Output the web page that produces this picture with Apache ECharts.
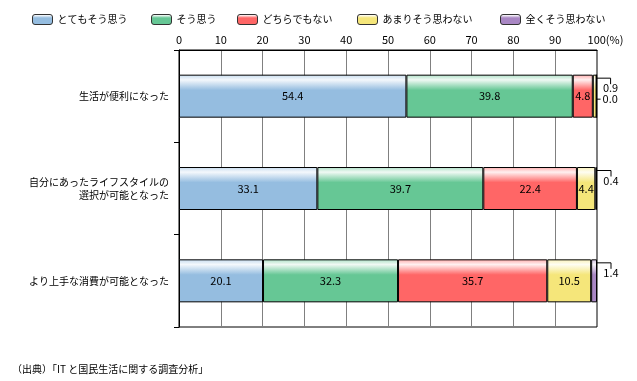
<!DOCTYPE html>
<html>
<head>
<meta charset="utf-8">
<script src="https://cdn.jsdelivr.net/npm/echarts@6/dist/echarts.min.js"></script>
<style>
html,body{margin:0;padding:0;background:#fff;}
#chart{width:637px;height:381px;}
</style>
</head>
<body>
<div id="chart"></div>
<script>
// ---- data ----
const categories = ['生活が便利になった', '自分にあったライフスタイルの\n選択が可能となった', 'より上手な消費が可能となった'];
const legendNames = ['とてもそう思う', 'そう思う', 'どちらでもない', 'あまりそう思わない', '全くそう思わない'];
const veryMuch = [54.4, 33.1, 20.1];
const somewhat = [39.8, 39.7, 32.3];
const neutral  = [4.8, 22.4, 35.7];
const notMuch  = [0.9, 4.4, 10.5];
const notAtAll = [0.0, 0.4, 1.4];
const xTickValues = [0, 10, 20, 30, 40, 50, 60, 70, 80, 90, 100];
const sourceNote = '（出典）「IT と国民生活に関する調査分析」';

// ---- styling ----
const baseColors = ['#95BDE0', '#66C795', '#FF6666', '#F5E67A', '#A987C4'];
const legendLefts = [32, 151, 237, 357, 500];
const FONT = '"Noto Sans CJK JP", "Noto Sans", sans-serif';
const BAR_W = 43;

function mix(hex, t) {
  const n = parseInt(hex.slice(1), 16);
  const r = (n >> 16) & 255, g = (n >> 8) & 255, b = n & 255;
  const f = c => Math.round(c + (255 - c) * t);
  return 'rgb(' + f(r) + ',' + f(g) + ',' + f(b) + ')';
}
function grad(hex) {
  return new echarts.graphic.LinearGradient(0, 0, 0, 1, [
    {offset: 0, color: mix(hex, 0.45)},
    {offset: 0.12, color: mix(hex, 0.9)},
    {offset: 0.36, color: hex},
    {offset: 1, color: hex}
  ]);
}

const seriesValues = [veryMuch, somewhat, neutral, notMuch, notAtAll];

// callouts for small segments
const callouts = [];
for (let r = 0; r < categories.length; r++) {
  let cum = 0;
  let slot = 0;
  for (let s = 0; s < seriesValues.length; s++) {
    const v = seriesValues[s][r];
    cum += v;
    if (v < 3) {
      callouts.push([Math.round(cum * 10) / 10, r, v, slot]);
      slot++;
    }
  }
}

const barSeries = legendNames.map((name, i) => ({
  name: name,
  type: 'bar',
  stack: 'total',
  barWidth: BAR_W,
  itemStyle: {color: grad(baseColors[i]), borderColor: '#000', borderWidth: 1},
  label: {
    show: true,
    position: 'inside',
    color: '#000',
    fontSize: 11,
    fontFamily: FONT,
    formatter: p => (p.value >= 3 ? p.value.toFixed(1) : '')
  },
  emphasis: {disabled: true},
  data: seriesValues[i]
}));

const calloutSeries = {
  type: 'custom',
  silent: true,
  z: 5,
  clip: false,
  data: callouts,
  renderItem: function (params, api) {
    const p = api.coord([api.value(0), api.value(1)]);
    const x = p[0];
    const top = p[1] - BAR_W / 2;
    const txt = api.value(2).toFixed(1);
    if (api.value(3) === 0) {
      return {
        type: 'group',
        children: [
          {type: 'polyline', shape: {points: [[x, top + 3.5], [x + 14, top + 3.5], [x + 14, top + 9.5]]},
           style: {stroke: '#000', lineWidth: 1, fill: null}},
          {type: 'text', x: x + 14, y: top + 13.5,
           style: {text: txt, fill: '#000', font: '11px ' + FONT, align: 'center', verticalAlign: 'middle'}}
        ]
      };
    }
    return {
      type: 'group',
      children: [
        {type: 'line', shape: {x1: x, y1: top + 24.5, x2: x + 4, y2: top + 24.5},
         style: {stroke: '#000', lineWidth: 1}},
        {type: 'text', x: x + 6, y: top + 24.5,
         style: {text: txt, fill: '#000', font: '11px ' + FONT, align: 'left', verticalAlign: 'middle'}}
      ]
    };
  }
};

const chart = echarts.init(document.getElementById('chart'));
chart.setOption({
  animation: false,
  backgroundColor: '#fff',
  textStyle: {fontFamily: FONT},
  title: {
    text: sourceNote,
    left: 7, top: 359,
    textStyle: {fontSize: 10, fontWeight: 'normal', color: '#000', fontFamily: FONT}
  },
  legend: legendNames.map((n, i) => ({
    data: [n],
    left: legendLefts[i],
    top: 14,
    itemWidth: 20,
    itemHeight: 10,
    itemGap: 5,
    padding: 0,
    selectedMode: false,
    itemStyle: {borderColor: '#333', borderWidth: 1},
    textStyle: {fontSize: 10, color: '#000', fontFamily: FONT}
  })),
  grid: {
    left: 179, right: 40, top: 50, bottom: 54,
    show: true, borderColor: '#000', borderWidth: 1, backgroundColor: 'transparent'
  },
  xAxis: {
    type: 'value',
    position: 'top',
    min: xTickValues[0],
    max: xTickValues[xTickValues.length - 1],
    interval: 10,
    axisLine: {show: true, lineStyle: {color: '#000'}},
    axisTick: {show: false},
    splitLine: {show: true, lineStyle: {color: '#808080', width: 1}},
    axisLabel: {
      color: '#000', fontSize: 11, margin: 5, fontFamily: FONT,
      formatter: v => (v === 100 ? '{p|100(%)}' : String(v)),
      rich: {p: {fontSize: 11, color: '#000', fontFamily: FONT, padding: [0, 0, 0, 17]}}
    }
  },
  yAxis: {
    type: 'category',
    inverse: true,
    data: categories,
    axisLine: {show: true, lineStyle: {color: '#000'}},
    axisTick: {show: true, length: 5, lineStyle: {color: '#000'}},
    axisLabel: {color: '#000', fontSize: 10, margin: 10, lineHeight: 13, fontFamily: FONT}
  },
  series: barSeries.concat([calloutSeries])
});
</script>
</body>
</html>
